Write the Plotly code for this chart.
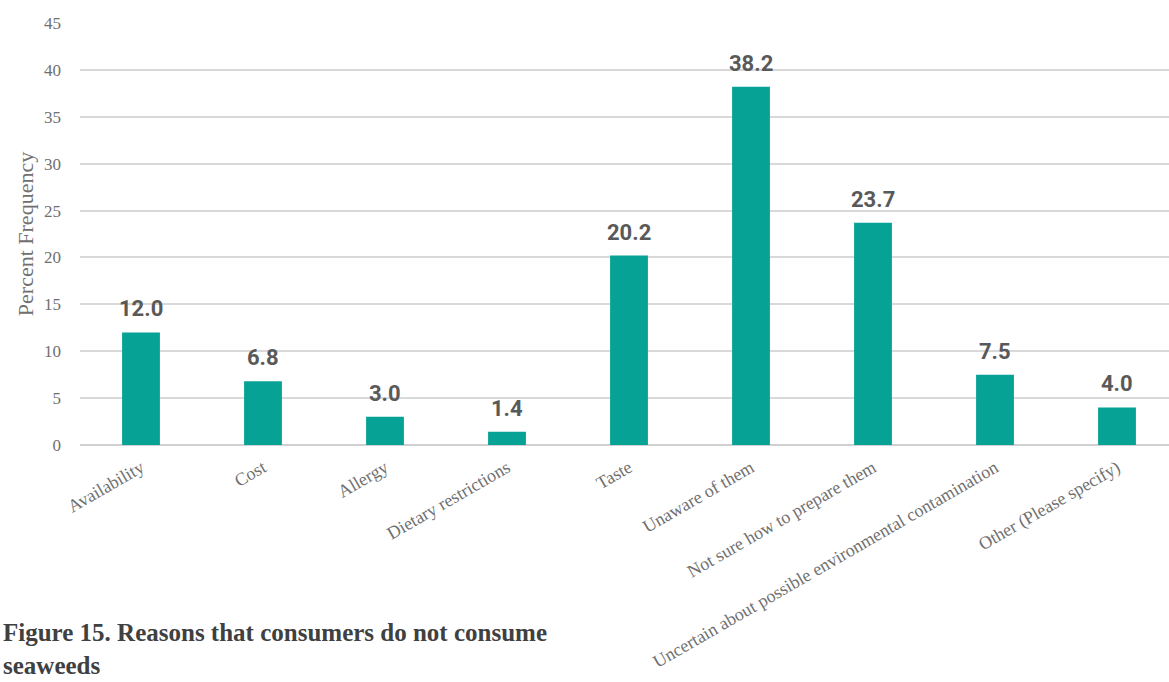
import plotly.graph_objects as go

# Survey reasons and percentage of respondents
reasons = [
    "Availability",
    "Cost",
    "Allergy",
    "Dietary restrictions",
    "Taste",
    "Unaware of them",
    "Not sure how to prepare them",
    "Uncertain about possible environmental contamination",
    "Other (Please specify)",
]
percent = [12.0, 6.8, 3.0, 1.4, 20.2, 38.2, 23.7, 7.5, 4.0]
y_ticks = [0, 5, 10, 15, 20, 25, 30, 35, 40, 45]

W, H = 1169, 682
ML, MR, MT, MB = 80, 0, 23, 237
plot_w = W - ML - MR
plot_h = H - MT - MB

BAR = "#05a295"
SERIF = "Liberation Serif, Times New Roman, serif"
TICK_GREY = "#707070"

xs = list(range(len(reasons)))

fig = go.Figure(
    go.Bar(
        x=xs,
        y=percent,
        width=0.31,
        marker=dict(color=BAR, line=dict(width=0)),
        hoverinfo="x+y",
    )
)

# Value labels sitting above each bar
for xi, v in zip(xs, percent):
    fig.add_annotation(
        x=xi,
        y=v,
        xref="x",
        yref="y",
        text=f"{v:.1f}",
        showarrow=False,
        yanchor="bottom",
        yshift=9,
        font=dict(family="Roboto", size=22, color="#595959", weight="bold"),
    )

fig.update_layout(
    width=W,
    height=H,
    margin=dict(l=ML, r=MR, t=MT, b=MB, pad=0),
    paper_bgcolor="white",
    plot_bgcolor="white",
    showlegend=False,
    xaxis=dict(
        tickmode="array",
        tickvals=xs,
        ticktext=reasons,
        tickangle=-30,
        range=[-0.5, 8.0 + 52 / 122],
        showgrid=False,
        zeroline=False,
        showline=False,
        ticks="",
        ticklabelstandoff=8,
        tickfont=dict(family=SERIF, size=18, color=TICK_GREY),
    ),
    yaxis=dict(
        range=[0, 45],
        tickvals=y_ticks,
        showgrid=True,
        gridcolor="#d9d9d9",
        gridwidth=1.5,
        zeroline=True,
        zerolinecolor="#d0d0d0",
        zerolinewidth=1.5,
        showline=False,
        ticks="",
        ticklabelstandoff=18,
        tickfont=dict(family=SERIF, size=17, color=TICK_GREY),
        title=dict(
            text="Percent Frequency",
            font=dict(family=SERIF, size=22, color=TICK_GREY),
            standoff=4,
        ),
    ),
)

# Figure caption beneath the chart
cap_x = (1 - ML) / plot_w
cap_y = (H - MB - 617) / plot_h
fig.add_annotation(
    xref="paper",
    yref="paper",
    x=cap_x,
    y=cap_y,
    xanchor="left",
    yanchor="top",
    align="left",
    showarrow=False,
    text="<b>Figure 15. Reasons that consumers do not consume<br>seaweeds</b>",
    font=dict(family=SERIF, size=25, color="#404040"),
)

fig.write_html("out.html")
